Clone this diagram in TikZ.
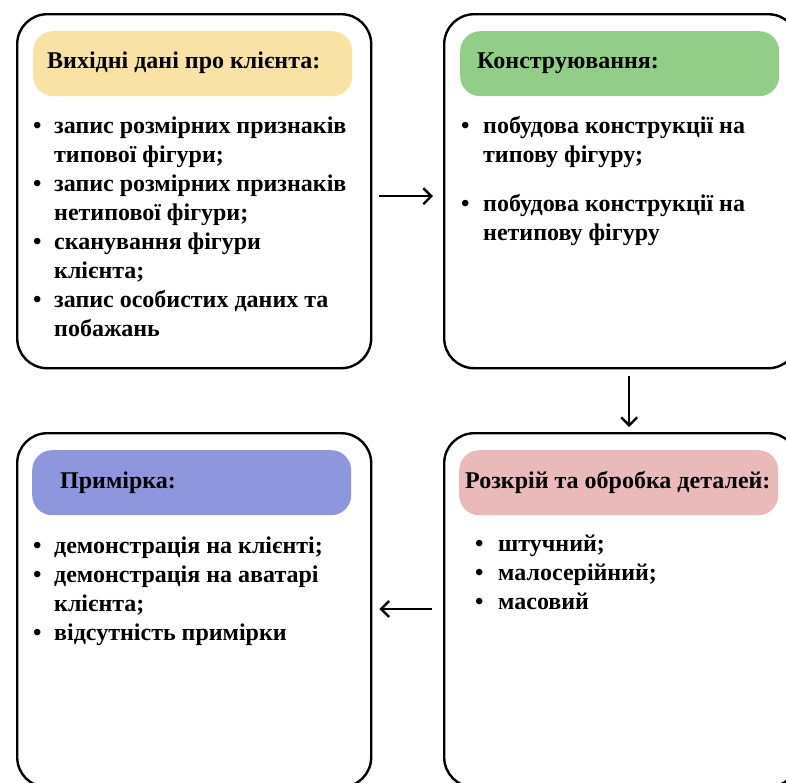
\documentclass[tikz,border=0pt]{standalone}
\usepackage{fontspec}
\setmainfont{Liberation Serif}
\usetikzlibrary{arrows.meta}
\definecolor{hdyellow}{RGB}{248,227,164}
\definecolor{hdgreen}{RGB}{147,206,137}
\definecolor{hdblue}{RGB}{142,150,222}
\definecolor{hdpink}{RGB}{234,186,186}
\newcommand\bul[1]{\makebox[#1][l]{•}}
\newcommand\ind[1]{\hspace*{#1}}
\begin{document}
\begin{tikzpicture}[x=1pt,y=1pt,
  stagebox/.style={draw=black, line width=2.4pt, rounded corners=30pt,
    minimum width=354pt, minimum height=354pt, inner sep=0pt, anchor=north west},
  headbox/.style={rounded corners=20pt, minimum width=319pt, minimum height=65pt,
    inner sep=0pt, anchor=north west},
  headtext/.style={font=\bfseries\fontsize{24}{29}\selectfont, inner sep=0pt, anchor=base west},
  listtext/.style={font=\bfseries\fontsize{24}{29}\selectfont, inner sep=0pt, align=left, anchor=north west},
  flow/.style={line width=2.4pt, -{Straight Barb[length=8pt,width=16pt,line width=2.4pt]}}]
\useasboundingbox (0,0) rectangle (786,-782);

% outer stage frames
\node[stagebox] (b1) at (16,-13) {};
\node[stagebox] (b2) at (443,-13) {};
\node[stagebox] (b3) at (16,-432) {};
\node[stagebox] (b4) at (443,-432) {};

% coloured title bars
\node[headbox, fill=hdyellow] (h1) at (33,-31) {};
\node[headbox, fill=hdgreen] (h2) at (460,-31) {};
\node[headbox, fill=hdblue] (h3) at (32,-450) {};
\node[headbox, fill=hdpink] (h4) at (459,-450) {};

% titles
\node[headtext] (t1) at (47,-68) {Вихідні дані про клієнта:};
\node[headtext] (t2) at (477,-68) {Конструювання:};
\node[headtext] (t3) at (60,-488) {Примірка:};
\node[headtext] (t4) at (465,-488) {Розкрій та обробка деталей:};

% item lists (the strut fixes the first baseline below the node top)
\node[listtext] (l1) at (33,-113) {%
  \strut\bul{21pt}запис розмірних признаків\\
  \ind{21pt}типової фігури;\\
  \bul{21pt}запис розмірних признаків\\
  \ind{21pt}нетипової фігури;\\
  \bul{21pt}сканування фігури\\
  \ind{21pt}клієнта;\\
  \bul{21pt}запис особистих даних та\\
  \ind{21pt}побажань};
\node[listtext] (l2) at (461,-113) {%
  \strut\bul{22pt}побудова конструкції на\\
  \ind{22pt}типову фігуру;\\[20pt]
  \bul{22pt}побудова конструкції на\\
  \ind{22pt}нетипову фігуру};
\node[listtext] (l3) at (33,-533) {%
  \strut\bul{21pt}демонстрація на клієнті;\\
  \bul{21pt}демонстрація на аватарі\\
  \ind{21pt}клієнта;\\
  \bul{21pt}відсутність примірки};
\node[listtext] (l4) at (475,-531) {%
  \strut\bul{23pt}штучний;\\
  \bul{23pt}малосерійний;\\
  \bul{23pt}масовий};

% flow between stages
\draw[flow] ([xshift=7pt,yshift=-5pt]b1.east) -- ([xshift=-10pt,yshift=-5pt]b2.west);
\draw[flow] ([xshift=8pt,yshift=-7pt]b2.south) -- ([xshift=8pt,yshift=5pt]b4.north);
\draw[flow] ([xshift=-11pt]b4.west |- 0,-609) -- ([xshift=7pt]b3.east |- 0,-609);
\end{tikzpicture}
\end{document}
